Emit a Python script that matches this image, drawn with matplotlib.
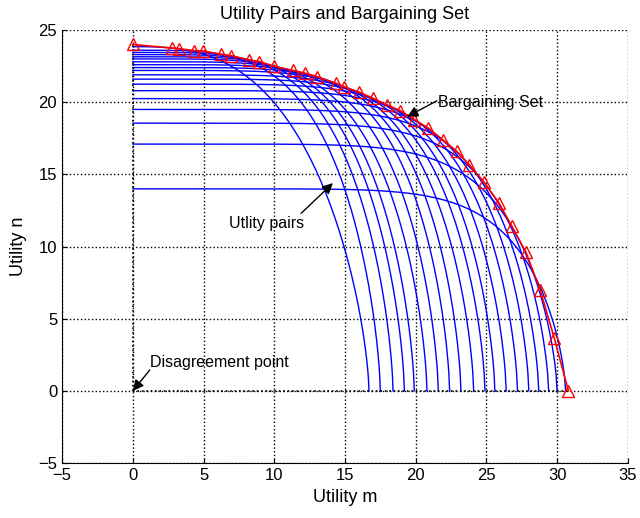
import numpy as np
import matplotlib
matplotlib.use('Agg')
import matplotlib.pyplot as plt

plt.rcParams['font.family'] = ['Liberation Sans', 'DejaVu Sans']

# bargaining set (red triangles)
bs_m = [0, 2.8, 3.3, 4.35, 4.95, 6.25, 6.95, 8.2, 8.95, 9.95, 11.3, 12.2, 13.0, 14.4, 14.95, 16.0,
        16.95, 18.0, 18.9, 19.9, 20.9, 21.9, 22.9, 23.8, 24.8, 25.9, 26.8, 27.8, 28.8, 29.8, 30.8]
bs_n = [24.0, 23.75, 23.7, 23.58, 23.55, 23.32, 23.23, 22.93, 22.82, 22.5, 22.2, 22.0, 21.78, 21.3,
        21.06, 20.7, 20.28, 19.8, 19.42, 18.8, 18.2, 17.4, 16.6, 15.65, 14.5, 13.0, 11.4, 9.6, 7.0,
        3.65, 0.0]

# utility pair curves: value on the n axis, value on the m axis, curve exponent
start_n = [23.85, 23.6, 23.45, 23.3, 23.15, 23.0, 22.8, 22.6, 22.4, 22.2, 21.9, 21.6, 21.25,
           20.8, 20.25, 19.5, 18.55, 17.1, 14.0]
end_m = [16.7, 17.5, 18.4, 19.2, 19.9, 20.8, 21.6, 22.4, 23.2, 24.1, 24.9, 25.6, 26.4, 27.2,
         28.0, 28.7, 29.4, 30.0, 30.6]
curve_p = [2.83, 3.92, 4.21, 4.40, 4.58, 4.65, 4.97, 5.29, 5.44, 5.40, 5.61, 5.83, 5.99, 6.27,
           6.46, 6.76, 6.86, 6.94, 7.58]

# disagreement point
d_m, d_n = 0, 0

fig = plt.figure(figsize=(6.4, 5.18), dpi=100)
ax = fig.add_axes([0.097, 0.106, 0.884, 0.836])

# curvas de pares de utilidade
t = np.linspace(0, 1, 400)
for N, M, p in zip(start_n, end_m, curve_p):
    ax.plot(t * M, N * (1 - t ** p) ** (1 / 1.5), color='#0000ff', lw=1.0)

ax.plot([d_m, d_m], [d_n, max(bs_n)], 'k:', lw=1.2)
ax.plot([d_m, max(bs_m)], [d_n, d_n], 'k:', lw=1.2)
ax.plot(bs_m, bs_n, '-^', color='red', mfc='none', mew=1.0, ms=8, lw=1.2)

seta = dict(arrowstyle='-|>', color='k', lw=1.0, mutation_scale=16, shrinkA=0, shrinkB=0)
ax.annotate('', xy=(19.4, 19.0), xytext=(21.5, 20.1), arrowprops=seta)
ax.text(21.6, 20.0, 'Bargaining Set', fontsize=11.5, va='center')
ax.annotate('', xy=(14.15, 14.4), xytext=(11.9, 12.3), arrowprops=seta)
ax.text(6.8, 11.6, 'Utlity pairs', fontsize=11.5, va='center')
ax.annotate('', xy=(d_m, d_n), xytext=(1.2, 1.45), arrowprops=seta)
ax.text(1.2, 2.0, 'Disagreement point', fontsize=11.5, va='center')

ax.set_xlim(-5, 35)
ax.set_ylim(-5, 25)
ax.set_xticks(range(-5, 36, 5))
ax.set_yticks(range(-5, 26, 5))
ax.grid(True, color='k', linestyle=':', lw=1)
ax.spines['top'].set_visible(False)
ax.spines['right'].set_visible(False)
ax.tick_params(direction='in', labelsize=12)
ax.set_xticklabels(['\u22125', '0', '5', '10', '15', '20', '25', '30', '35'])
ax.set_yticklabels(['\u22125', '0', '5', '10', '15', '20', '25'])
ax.set_xlabel('Utility m', fontsize=13)
ax.set_ylabel('Utility n', fontsize=13, labelpad=8)
ax.set_title('Utility Pairs and Bargaining Set', fontsize=13, pad=8)

fig.savefig('out.png', dpi=100)
